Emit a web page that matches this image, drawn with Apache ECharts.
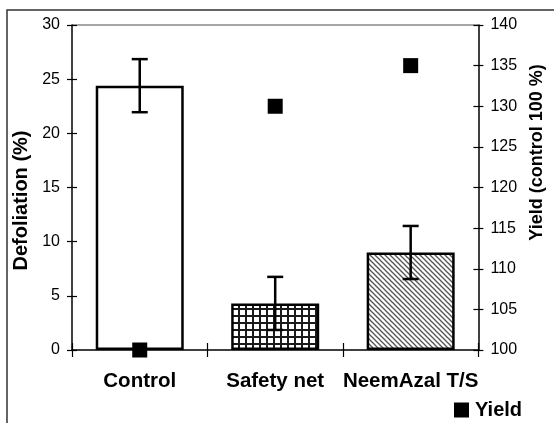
<!DOCTYPE html>
<html>
<head>
<meta charset="utf-8">
<script src="https://cdn.jsdelivr.net/npm/echarts@6/dist/echarts.min.js"></script>
<style>html,body{margin:0;padding:0;background:#fff}#c{width:554px;height:423px}</style>
</head>
<body>
<div id="c"></div>
<script>
var categories = ['Control', 'Safety net', 'NeemAzal T/S'];
var defoliation = [24.4, 4.3, 9.0];
var defoliationErr = [2.45, 2.45, 2.45];
var yieldValues = [100, 130, 135];
var leftTicks = {min: 0, max: 30, interval: 5};
var rightTicks = {min: 100, max: 140, interval: 5};

function makeGrid() {
  var c = document.createElement('canvas'); c.width = 7; c.height = 7;
  var g = c.getContext('2d');
  g.fillStyle = '#fff'; g.fillRect(0, 0, 7, 7);
  g.fillStyle = '#1a1a1a'; g.fillRect(0, 0, 7, 2); g.fillRect(0, 0, 2, 7);
  return c;
}
function makeHatch() {
  var s = 5;
  var c = document.createElement('canvas'); c.width = s; c.height = s;
  var g = c.getContext('2d');
  g.fillStyle = '#fff'; g.fillRect(0, 0, s, s);
  g.strokeStyle = '#555'; g.lineWidth = 1.3;
  for (var k = -1; k <= 1; k++) {
    g.beginPath(); g.moveTo(k * s - 1, -1); g.lineTo(k * s + s + 1, s + 1); g.stroke();
  }
  return c;
}
var fills = ['#ffffff', {image: makeGrid(), repeat: 'repeat'}, {image: makeHatch(), repeat: 'repeat'}];
var FONT = "'Liberation Sans', Arial, sans-serif";

var chart = echarts.init(document.getElementById('c'), null, {renderer: 'canvas'});
var tickLeftColors = [];
for (var v = leftTicks.min; v <= leftTicks.max; v += leftTicks.interval) {
  tickLeftColors.push(v === leftTicks.max ? '#888' : 'rgba(0,0,0,0)');
}
var option = {
  animation: false,
  backgroundColor: '#fff',
  textStyle: {fontFamily: FONT},
  graphic: [{
    type: 'rect', shape: {x: 7, y: 10, width: 600, height: 500},
    style: {fill: 'none', stroke: '#333', lineWidth: 1.5}, silent: true
  }],
  grid: {left: 72, right: 65, top: 25, bottom: 73, containLabel: false},
  legend: {
    data: [{name: 'Yield', icon: 'rect', itemStyle: {color: '#000', opacity: 1}}],
    left: 454, top: 400, padding: 0,
    itemWidth: 15, itemHeight: 15, itemGap: 5,
    textStyle: {fontFamily: FONT, fontWeight: 'bold', fontSize: 20, color: '#000', padding: [0, 0, 0, 1]}
  },
  xAxis: [{
    type: 'category', data: categories, position: 'bottom',
    axisLine: {show: true, lineStyle: {color: '#000', width: 1.5}},
    axisTick: {show: true, length: 7, interval: 0, lineStyle: {color: '#000', width: 1.2}},
    axisLabel: {fontFamily: FONT, fontWeight: 'bold', fontSize: 20.5, color: '#000', margin: 21, interval: 0},
    splitLine: {show: false}
  }, {
    type: 'category', data: categories, position: 'bottom',
    axisLine: {show: false},
    axisTick: {show: true, inside: true, length: 7, interval: 0, lineStyle: {color: '#000', width: 1.2}},
    axisLabel: {show: false}, splitLine: {show: false}
  }],
  yAxis: [{
    type: 'value', position: 'left', min: leftTicks.min, max: leftTicks.max, interval: leftTicks.interval,
    name: 'Defoliation (%)', nameLocation: 'middle', nameRotate: 90, nameGap: 40,
    nameTextStyle: {fontFamily: FONT, fontWeight: 'bold', fontSize: 20, color: '#000', padding: [0, 26, 0, 0]},
    axisLine: {show: true, lineStyle: {color: '#000', width: 1.5}},
    axisTick: {show: true, length: 5, lineStyle: {color: '#000', width: 1.2}},
    axisLabel: {fontFamily: FONT, fontSize: 16, color: '#000', margin: 12},
    splitLine: {show: true, lineStyle: {color: tickLeftColors, width: 1.5}}
  }, {
    type: 'value', position: 'right', min: rightTicks.min, max: rightTicks.max, interval: rightTicks.interval,
    name: 'Yield (control 100 %)', nameLocation: 'middle', nameRotate: 90, nameGap: 47,
    nameTextStyle: {fontFamily: FONT, fontWeight: 'bold', fontSize: 18, color: '#000', padding: [0, 0, 0, 70]},
    axisLine: {show: true, lineStyle: {color: '#000', width: 1.5}},
    axisTick: {show: true, length: 5, lineStyle: {color: '#000', width: 1.2}},
    axisLabel: {fontFamily: FONT, fontSize: 16, color: '#000', margin: 12},
    splitLine: {show: false}
  }, {
    type: 'value', position: 'left', min: leftTicks.min, max: leftTicks.max, interval: leftTicks.interval,
    axisLine: {show: false},
    axisTick: {show: true, inside: true, length: 5, lineStyle: {color: '#000', width: 1.2}},
    axisLabel: {show: false}, splitLine: {show: false}
  }, {
    type: 'value', position: 'right', min: rightTicks.min, max: rightTicks.max, interval: rightTicks.interval,
    axisLine: {show: false},
    axisTick: {show: true, inside: true, length: 5, lineStyle: {color: '#000', width: 1.2}},
    axisLabel: {show: false}, splitLine: {show: false}
  }],
  series: [{
    name: 'Defoliation', type: 'bar', xAxisIndex: 0, yAxisIndex: 0, barWidth: 88,
    data: defoliation.map(function (v, i) {
      return {value: v, itemStyle: {color: fills[i], borderColor: '#000', borderWidth: 2.5}};
    }),
    z: 2
  }, {
    name: 'Error', type: 'custom', xAxisIndex: 0, yAxisIndex: 0,
    data: defoliation.map(function (v, i) { return [i, v - defoliationErr[i], v + defoliationErr[i]]; }),
    renderItem: function (params, api) {
      var lo = api.coord([api.value(0), api.value(1)]);
      var hi = api.coord([api.value(0), api.value(2)]);
      var x = lo[0], w = 8;
      var st = {stroke: '#000', lineWidth: 2.5};
      return {type: 'group', children: [
        {type: 'line', shape: {x1: x, y1: lo[1], x2: x, y2: hi[1]}, style: st},
        {type: 'line', shape: {x1: x - w, y1: lo[1], x2: x + w, y2: lo[1]}, style: st},
        {type: 'line', shape: {x1: x - w, y1: hi[1], x2: x + w, y2: hi[1]}, style: st}
      ]};
    },
    z: 3
  }, {
    name: 'Yield', type: 'scatter', xAxisIndex: 0, yAxisIndex: 1,
    symbol: 'rect', symbolSize: 15, itemStyle: {color: '#000', opacity: 1},
    data: yieldValues, z: 5
  }]
};
chart.setOption(option);
</script>
</body>
</html>
